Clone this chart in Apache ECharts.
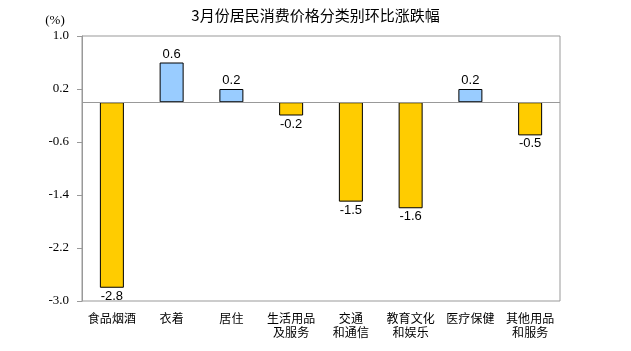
<!DOCTYPE html>
<html><head><meta charset="utf-8">
<script src="https://cdn.jsdelivr.net/npm/echarts@6/dist/echarts.min.js"></script>
<style>html,body{margin:0;padding:0;background:#fff}#c{width:631px;height:351px}</style>
</head><body><div id="c"></div>
<script>
const categories = ['食品烟酒','衣着','居住','生活用品\n及服务','交通\n和通信','教育文化\n和娱乐','医疗保健','其他用品\n和服务'];
const values = [-2.8, 0.6, 0.2, -0.2, -1.5, -1.6, 0.2, -0.5];
const yMin = -3.0, yMax = 1.0, yStep = 0.8;
const titleText = '3月份居民消费价格分类别环比涨跌幅';
const unitText = '(%)';

const chart = echarts.init(document.getElementById('c'), null, {renderer:'canvas'});
chart.setOption({
  animation:false,
  backgroundColor:'#fff',
  title:{text:titleText,left:'center',top:3,textStyle:{fontFamily:'Noto Sans CJK SC',fontSize:15,fontWeight:'normal',color:'#000'}},
  grid:{left:82,right:71,top:36,bottom:50,show:true,borderColor:'#999',borderWidth:1,backgroundColor:'transparent'},
  xAxis:{type:'category',data:categories,
    axisLine:{show:false,onZero:false},axisTick:{show:false},
    axisLabel:{color:'#000',fontFamily:'Noto Sans CJK SC',fontSize:12,margin:10,lineHeight:14,interval:0}},
  yAxis:{type:'value',min:yMin,max:yMax,interval:yStep,
    name:unitText,nameLocation:'end',nameGap:9,
    nameTextStyle:{fontFamily:'Liberation Serif',fontSize:13,color:'#000',align:'center',padding:[0,0,0,-54]},
    splitLine:{show:false},
    axisLine:{show:true,lineStyle:{color:'#999'}},
    axisTick:{show:true,inside:false,length:5,lineStyle:{color:'#999'}},
    axisLabel:{color:'#000',fontFamily:'Liberation Serif',fontSize:13,margin:13,formatter:v=>v.toFixed(1)}},
  series:[{type:'bar',barWidth:24,
    data:values.map(v=>({value:v,
      itemStyle:{color:v>=0?'#99CCFF':'#FFCC00',borderColor:'#000',borderWidth:1},
      label:{show:true,position:v>=0?'top':'bottom',distance:2,formatter:String(v.toFixed(1)),
        fontFamily:'Liberation Sans',fontSize:13,color:'#000'}})),
    markLine:{silent:true,symbol:['none','none'],label:{show:false},
      lineStyle:{color:'#999',type:'solid',width:1},data:[{yAxis:0}]}
  }]
});
</script></body></html>
